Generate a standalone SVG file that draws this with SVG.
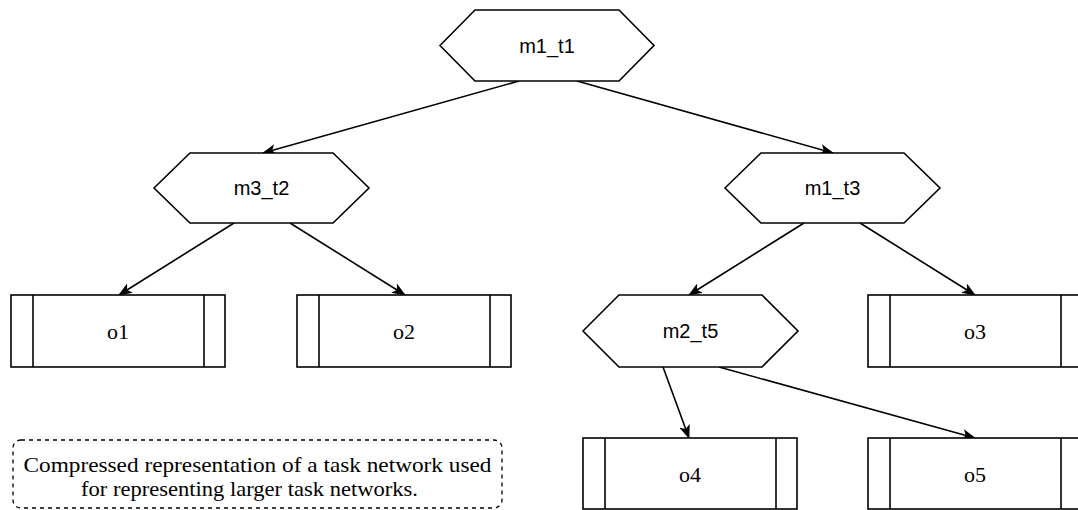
<svg xmlns="http://www.w3.org/2000/svg" width="1078" height="510" viewBox="0 0 1078 510">
  <style>
    .shape { fill: #ffffff; stroke: #000000; stroke-width: 1.6; }
    .edge { fill: none; stroke: #000000; stroke-width: 1.6; marker-end: url(#arrow); }
    .lbl { font-family: "Liberation Sans", Arial, sans-serif; font-size: 20px; fill: #000000; text-anchor: middle; dominant-baseline: central; }
    .olbl { font-family: "Liberation Serif", "Times New Roman", serif; font-size: 22px; fill: #000000; text-anchor: middle; dominant-baseline: central; }
    .note { fill: #ffffff; stroke: #000000; stroke-width: 1.3; stroke-dasharray: 4 4; }
    .ntxt { font-family: "Liberation Serif", "Times New Roman", serif; font-size: 22px; fill: #000000; text-anchor: middle; }
  </style>
  <defs>
    <marker id="arrow" viewBox="0 0 14 11" refX="13" refY="5.5" markerWidth="14" markerHeight="11" markerUnits="userSpaceOnUse" orient="auto">
      <path d="M0,0 L14,5.5 L0,11 L3.5,5.5 Z" fill="#000000" stroke="none"/>
    </marker>
  </defs>

  <!-- connectors -->
  <g id="edges">
    <line class="edge" x1="519" y1="81" x2="263" y2="153"/>
    <line class="edge" x1="577" y1="81" x2="833" y2="153"/>
    <line class="edge" x1="234" y1="223" x2="119" y2="295"/>
    <line class="edge" x1="290" y1="223" x2="405" y2="295"/>
    <line class="edge" x1="804" y1="223" x2="689" y2="295"/>
    <line class="edge" x1="860" y1="223" x2="975" y2="295"/>
    <line class="edge" x1="663" y1="367" x2="689" y2="438"/>
    <line class="edge" x1="719" y1="367" x2="975" y2="438"/>
  </g>

  <!-- task nodes (hexagons) -->
  <g id="m1_t1">
    <polygon class="shape" points="440,45.5 475,10 619,10 654,45.5 619,81 475,81"/>
    <text class="lbl" x="547" y="45.5">m1_t1</text>
  </g>
  <g id="m3_t2">
    <polygon class="shape" points="154,188 190,153 333,153 369,188 333,223 190,223"/>
    <text class="lbl" x="261.5" y="188">m3_t2</text>
  </g>
  <g id="m1_t3">
    <polygon class="shape" points="725,188 761,153 904,153 940,188 904,223 761,223"/>
    <text class="lbl" x="832.5" y="188">m1_t3</text>
  </g>
  <g id="m2_t5">
    <polygon class="shape" points="583,331 619,295 762,295 798,331 762,367 619,367"/>
    <text class="lbl" x="690.5" y="331">m2_t5</text>
  </g>

  <!-- operator nodes (process boxes) -->
  <g id="o1">
    <rect class="shape" x="11" y="295" width="214" height="72"/>
    <line class="shape" x1="33" y1="295" x2="33" y2="367"/>
    <line class="shape" x1="204" y1="295" x2="204" y2="367"/>
    <text class="olbl" x="118" y="331">o1</text>
  </g>
  <g id="o2">
    <rect class="shape" x="297" y="295" width="214" height="72"/>
    <line class="shape" x1="319" y1="295" x2="319" y2="367"/>
    <line class="shape" x1="490" y1="295" x2="490" y2="367"/>
    <text class="olbl" x="404" y="331">o2</text>
  </g>
  <g id="o3">
    <rect class="shape" x="868" y="295" width="214" height="72"/>
    <line class="shape" x1="890" y1="295" x2="890" y2="367"/>
    <line class="shape" x1="1061" y1="295" x2="1061" y2="367"/>
    <text class="olbl" x="975" y="331">o3</text>
  </g>
  <g id="o4">
    <rect class="shape" x="583" y="438" width="214" height="71"/>
    <line class="shape" x1="605" y1="438" x2="605" y2="509"/>
    <line class="shape" x1="776" y1="438" x2="776" y2="509"/>
    <text class="olbl" x="690" y="474">o4</text>
  </g>
  <g id="o5">
    <rect class="shape" x="868" y="438" width="214" height="71"/>
    <line class="shape" x1="890" y1="438" x2="890" y2="509"/>
    <line class="shape" x1="1061" y1="438" x2="1061" y2="509"/>
    <text class="olbl" x="975" y="474">o5</text>
  </g>

  <!-- annotation -->
  <g id="note">
    <rect class="note" x="13" y="440" width="489" height="68" rx="8" ry="8"/>
    <text class="ntxt" x="257.5" y="472" textLength="468" lengthAdjust="spacingAndGlyphs">Compressed representation of a task network used</text>
    <text class="ntxt" x="249.5" y="496" textLength="337" lengthAdjust="spacingAndGlyphs">for representing larger task networks.</text>
  </g>
</svg>
